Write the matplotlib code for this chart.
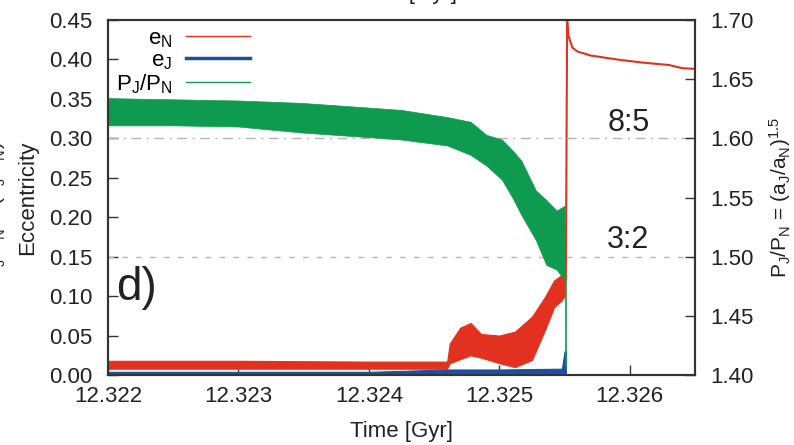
import matplotlib
matplotlib.use('Agg')
import matplotlib.pyplot as plt
from matplotlib.lines import Line2D

plt.rcParams['font.family'] = ['Liberation Sans', 'DejaVu Sans']
plt.rcParams['mathtext.default'] = 'regular'

# e_N (left axis) - dense oscillation, kept as lower/upper envelope
red_t = [12.32200, 12.32300, 12.32400, 12.32460, 12.32462, 12.32470, 12.32478,
         12.32486, 12.32500, 12.32512, 12.32525, 12.32535, 12.32542, 12.32548, 12.32550]
red_lo = [0.008, 0.008, 0.008, 0.008, 0.015, 0.020, 0.025,
          0.022, 0.015, 0.010, 0.019, 0.057, 0.086, 0.095, 0.100]
red_hi = [0.018, 0.018, 0.017, 0.017, 0.040, 0.060, 0.066,
          0.052, 0.050, 0.055, 0.074, 0.099, 0.120, 0.127, 0.130]

# e_N after the jump
red_after_t = [12.32551, 12.32552, 12.32553, 12.32556, 12.32560, 12.32570,
               12.32590, 12.32610, 12.32630, 12.32640, 12.32650]
red_after_v = [0.120, 0.450, 0.430, 0.415, 0.410, 0.405,
               0.400, 0.396, 0.393, 0.389, 0.388]

# e_J (left axis)
blue_t = [12.32200, 12.32300, 12.32400, 12.32460, 12.32500, 12.32548, 12.32550, 12.32551]
blue_lo = [0.001, 0.001, 0.001, 0.002, 0.002, 0.002, 0.002, 0.002]
blue_hi = [0.004, 0.004, 0.004, 0.007, 0.007, 0.008, 0.030, 0.030]

# P_J/P_N (right axis)
green_t = [12.32200, 12.32250, 12.32300, 12.32348, 12.32400, 12.32425, 12.32460,
           12.32478, 12.32490, 12.32502, 12.32510, 12.32517, 12.32528, 12.32536,
           12.32544, 12.32550]
green_lo = [1.611, 1.611, 1.610, 1.605, 1.601, 1.599, 1.594,
            1.586, 1.577, 1.565, 1.550, 1.535, 1.514, 1.493,
            1.489, 1.480]
green_hi = [1.634, 1.633, 1.632, 1.630, 1.626, 1.624, 1.618,
            1.614, 1.603, 1.599, 1.590, 1.581, 1.556, 1.548,
            1.539, 1.543]
green_drop_t = [12.32551, 12.32551]
green_drop_v = [1.480, 1.408]

resonances = [1.60, 1.50]
resonance_labels = ['8:5', '3:2']
x_ticks = [12.322, 12.323, 12.324, 12.325, 12.326]

c_red = '#e2321f'
c_blue = '#1d4f9c'
c_green = '#0e9a4f'
c_axis = '#333333'
c_text = '#222222'

fig = plt.figure(figsize=(7.94, 4.45), dpi=100)
ax = fig.add_axes([0.136, 0.1573, 0.7393, 0.7977])
ax2 = ax.twinx()

ax.set_xlim(12.322, 12.3265)
ax.set_ylim(0, 0.45)
ax2.set_ylim(1.40, 1.70)

# resonance lines
ax2.axhline(resonances[0], color='#b5b5b5', lw=1, ls=(0, (7, 4, 1.5, 4)), zorder=0)
ax2.axhline(resonances[1], color='#b5b5b5', lw=1, ls=(0, (4, 6)), zorder=0)
ax2.text(12.32599, 1.613, resonance_labels[0], fontsize=22, color=c_text, ha='center', va='center')
ax2.text(12.32599, 1.514, resonance_labels[1], fontsize=22, color=c_text, ha='center', va='center')

ax.fill_between(red_t, red_lo, red_hi, color=c_red, lw=0.8, zorder=3)
ax.plot(red_after_t, red_after_v, color=c_red, lw=1.5, zorder=3)
ax.fill_between(blue_t, blue_lo, blue_hi, color=c_blue, lw=0.8, zorder=4)

ax2.fill_between(green_t, green_lo, green_hi, color=c_green, lw=0.5, zorder=2)
ax2.plot(green_drop_t, green_drop_v, color=c_green, lw=1.2, zorder=2)

ax.set_xticks(x_ticks)
ax.set_xticklabels(['%.3f' % t for t in x_ticks])
ax.set_yticks([i * 0.05 for i in range(10)])
ax.set_yticklabels(['%.2f' % (i * 0.05) for i in range(10)])
ax2.set_yticks([1.40 + i * 0.05 for i in range(7)])
ax2.set_yticklabels(['%.2f' % (1.40 + i * 0.05) for i in range(7)])

ax.tick_params(axis='x', direction='in', length=7, width=1, labelsize=16, pad=8,
               top=False, colors=c_axis, labelcolor=c_text)
ax.tick_params(axis='y', direction='in', length=7, width=1, labelsize=16, pad=11,
               right=False, colors=c_axis, labelcolor=c_text)
ax2.tick_params(axis='y', direction='in', length=7, width=1, labelsize=16, pad=11,
                colors=c_axis, labelcolor=c_text)
for a in (ax, ax2):
    for s in a.spines.values():
        s.set_color(c_axis)
        s.set_linewidth(1.5)

ax.set_xlabel('Time [Gyr]', fontsize=16, color=c_text, labelpad=10)
ax.set_ylabel('Eccentricity', fontsize=16, color=c_text, labelpad=8)
ax2.set_ylabel('P$_J$/P$_N$ = (a$_J$/a$_N$)$^{1.5}$', fontsize=15, color=c_text, labelpad=10)

ax.text(0.048, 0.245, 'd)', transform=ax.transAxes, fontsize=33, color=c_text,
        ha='center', va='center')

handles = [Line2D([], [], color=c_red, lw=1),
           Line2D([], [], color=c_blue, lw=2.5),
           Line2D([], [], color=c_green, lw=1)]
ax2.legend(handles, ['e$_N$', 'e$_J$', 'P$_J$/P$_N$'], loc='upper right',
           bbox_to_anchor=(250 / 794, 1 - 28 / 445), bbox_transform=fig.transFigure,
           frameon=False, markerfirst=False, fontsize=16, handlelength=2.9,
           handletextpad=0.6, labelspacing=0.02, borderpad=0, borderaxespad=0)

# pieces of the neighbouring panels, cut by the page edge
fig.text(405 / 794, 1 + 1 / 445, 'Time [Gyr]', fontsize=16, color=c_text,
         ha='center', va='baseline')
fig.text(-5 / 794, 0.55, 'P$_J$/P$_N$ = (a$_J$/a$_N$)$^{1.5}$', fontsize=15,
         color=c_text, rotation=90, ha='center', va='center')

fig.savefig('out.png', dpi=100)
